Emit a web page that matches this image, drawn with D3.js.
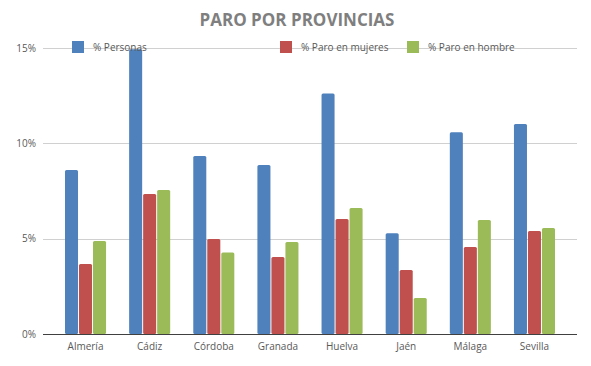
<!DOCTYPE html>
<html>
<head>
<meta charset="utf-8">
<script src="https://cdn.jsdelivr.net/npm/d3@7"></script>
<style>
  body { margin: 0; background: #fff; }
  svg { display: block; font-family: "Open Sans", sans-serif; }
</style>
</head>
<body>
<div id="chart"></div>
<script>
// Paro por provincias (Andalucía)
var provincias = ["Almería", "Cádiz", "Córdoba", "Granada", "Huelva", "Jaén", "Málaga", "Sevilla"];
var series = ["% Personas", "% Paro en mujeres", "% Paro en hombre"];
var personas = [8.6, 14.93, 9.33, 8.86, 12.62, 5.28, 10.58, 11.01];
var mujeres = [3.67, 7.34, 4.98, 4.04, 6.03, 3.36, 4.56, 5.40];
var hombres = [4.88, 7.55, 4.28, 4.82, 6.61, 1.89, 5.98, 5.56];
var yTicks = [0, 5, 10, 15];

var colors = ["#4F81BD", "#C0504D", "#9BBB59"];
var width = 591, height = 366;
var plot = {left: 43, right: 577, top: 48, bottom: 334};

var rows = provincias.map(function(p, i) {
  return {name: p, values: [personas[i], mujeres[i], hombres[i]]};
});

var svg = d3.select("#chart").append("svg")
    .attr("width", width)
    .attr("height", height);

var x0 = d3.scaleBand()
    .domain(provincias)
    .range([plot.left, plot.right])
    .paddingInner(0.36)
    .paddingOuter(0.343);

var x1 = d3.scaleBand()
    .domain(d3.range(series.length))
    .range([0, x0.bandwidth()])
    .paddingInner(0.07);

var y = d3.scaleLinear()
    .domain([0, 15])
    .range([plot.bottom, plot.top]);

// title
svg.append("text")
    .attr("x", 297)
    .attr("y", 26)
    .attr("text-anchor", "middle")
    .style("font-size", "17px")
    .style("font-weight", "bold")
    .style("fill", "#7f7f7f")
    .text("PARO POR PROVINCIAS");

// grid
svg.append("g")
    .attr("class", "grid")
    .selectAll("line")
    .data(yTicks.filter(function(d) { return d > 0; }))
    .enter().append("line")
      .attr("x1", plot.left)
      .attr("x2", plot.right)
      .attr("y1", function(d) { return Math.round(y(d)) + 0.5; })
      .attr("y2", function(d) { return Math.round(y(d)) + 0.5; })
      .attr("stroke", "#d0d0d0")
      .attr("stroke-width", 1);

// y labels
svg.append("g")
    .selectAll("text")
    .data(yTicks)
    .enter().append("text")
      .attr("x", 36)
      .attr("y", function(d) { return y(d); })
      .attr("dy", "0.35em")
      .attr("text-anchor", "end")
      .style("font-size", "10px")
      .style("fill", "#595959")
      .text(function(d) { return d + "%"; });

// bars
var groups = svg.append("g")
    .selectAll("g")
    .data(rows)
    .enter().append("g")
      .attr("transform", function(d) { return "translate(" + x0(d.name) + ",0)"; });

groups.selectAll("rect")
    .data(function(d) { return d.values; })
    .enter().append("rect")
      .attr("x", function(d, i) { return x1(i); })
      .attr("y", function(d) { return y(d); })
      .attr("width", x1.bandwidth())
      .attr("height", function(d) { return plot.bottom - y(d); })
      .attr("rx", 1.5)
      .attr("fill", function(d, i) { return colors[i]; });

// x axis
svg.append("line")
    .attr("x1", plot.left)
    .attr("x2", plot.right)
    .attr("y1", plot.bottom + 0.5)
    .attr("y2", plot.bottom + 0.5)
    .attr("stroke", "#404040")
    .attr("stroke-width", 1);

svg.append("g")
    .selectAll("text")
    .data(provincias)
    .enter().append("text")
      .attr("x", function(d) { return x0(d) + x0.bandwidth() / 2; })
      .attr("y", 350)
      .attr("text-anchor", "middle")
      .style("font-size", "10px")
      .style("fill", "#595959")
      .text(function(d) { return d; });

// legend
var legendX = [72, 280, 407];
var legend = svg.append("g")
    .selectAll("g")
    .data(series)
    .enter().append("g")
      .attr("transform", function(d, i) { return "translate(" + legendX[i] + ",41)"; });

legend.append("rect")
    .attr("width", 12)
    .attr("height", 12)
    .attr("fill", function(d, i) { return colors[i]; });

legend.append("text")
    .attr("x", 21)
    .attr("y", 6)
    .attr("dy", "0.35em")
    .style("font-size", "10px")
    .style("fill", "#595959")
    .text(function(d) { return d; });
</script>
</body>
</html>
